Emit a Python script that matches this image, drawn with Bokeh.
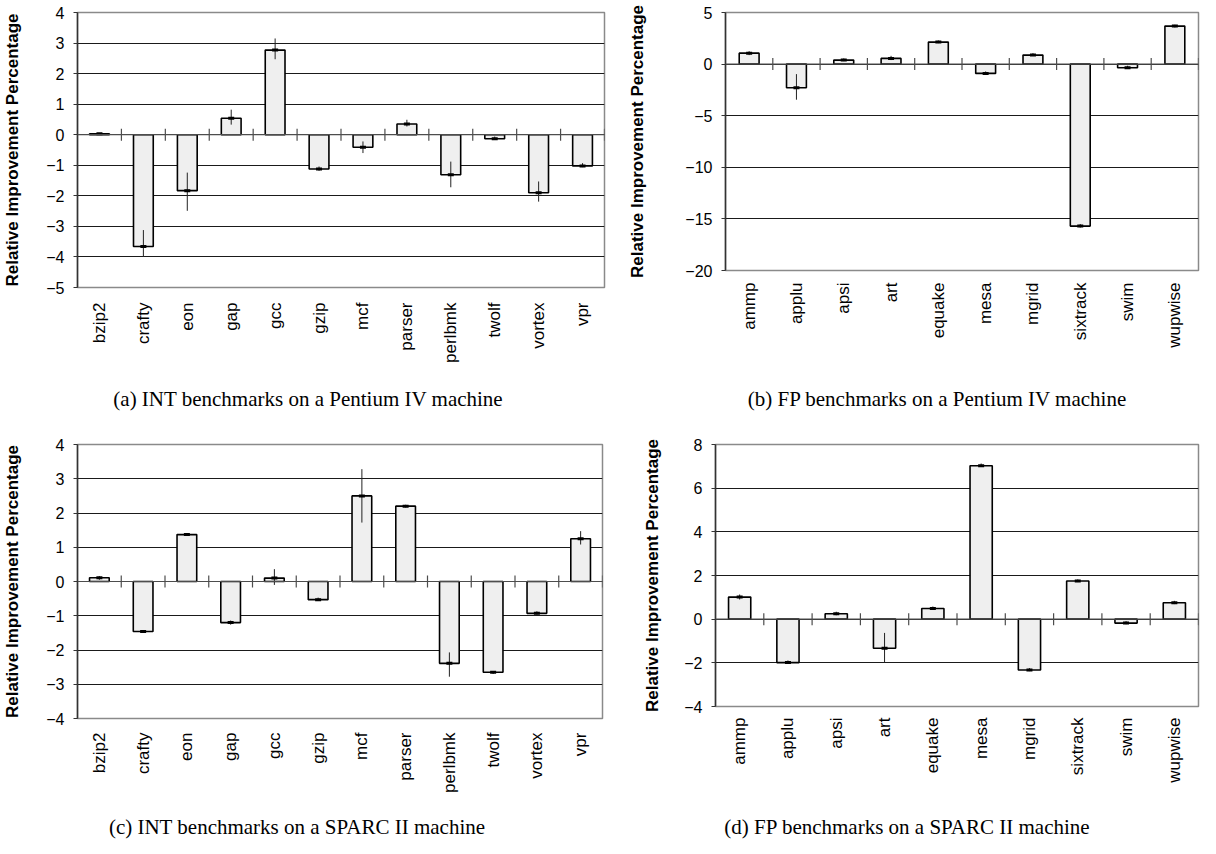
import math
from bokeh.plotting import figure
from bokeh.layouts import column, row
from bokeh.models import FixedTicker, Span, Range1d, ColumnDataSource, Div
from bokeh.embed import file_html
from bokeh.resources import INLINE

# ---------------- data ----------------
int_names = ["bzip2", "crafty", "eon", "gap", "gcc", "gzip", "mcf", "parser",
             "perlbmk", "twolf", "vortex", "vpr"]
fp_names = ["ammp", "applu", "apsi", "art", "equake", "mesa", "mgrid",
            "sixtrack", "swim", "wupwise"]

# (a) INT on Pentium IV
a_vals = [0.03, -3.66, -1.83, 0.54, 2.77, -1.12, -0.41, 0.35, -1.31, -0.13, -1.90, -1.02]
a_lo = [0.00, -4.00, -2.49, 0.33, 2.47, -1.18, -0.60, 0.27, -1.72, -0.16, -2.19, -1.06]
a_hi = [0.05, -3.12, -1.24, 0.82, 3.15, -1.04, -0.22, 0.49, -0.88, -0.06, -1.53, -0.93]
a_ticks = [-5, -4, -3, -2, -1, 0, 1, 2, 3, 4]

# (b) FP on Pentium IV
b_vals = [1.06, -2.29, 0.39, 0.55, 2.13, -0.90, 0.87, -15.70, -0.35, 3.68]
b_lo = [0.87, -3.45, 0.29, 0.39, 2.03, -0.97, 0.80, -15.84, -0.42, 3.55]
b_hi = [1.25, -0.97, 0.55, 0.80, 2.29, -0.71, 1.06, -15.50, -0.16, 3.81]
b_ticks = [-20, -15, -10, -5, 0, 5]

# (c) INT on SPARC II
c_vals = [0.11, -1.46, 1.37, -1.20, 0.10, -0.53, 2.50, 2.20, -2.39, -2.65, -0.93, 1.25]
c_lo = [0.05, -1.50, 1.33, -1.26, -0.10, -0.55, 1.72, 2.16, -2.78, -2.70, -0.96, 1.08]
c_hi = [0.16, -1.42, 1.41, -1.14, 0.36, -0.47, 3.28, 2.24, -2.07, -2.62, -0.87, 1.47]
c_ticks = [-4, -3, -2, -1, 0, 1, 2, 3, 4]

# (d) FP on SPARC II
d_vals = [1.01, -1.99, 0.25, -1.33, 0.49, 7.03, -2.33, 1.75, -0.18, 0.75]
d_lo = [0.90, -2.04, 0.18, -1.98, 0.44, 6.97, -2.38, 1.70, -0.23, 0.69]
d_hi = [1.13, -1.89, 0.34, -0.63, 0.58, 7.13, -2.24, 1.82, -0.09, 0.84]
d_ticks = [-4, -2, 0, 2, 4, 6, 8]

captions = ["(a) INT benchmarks on a Pentium IV machine",
            "(b) FP benchmarks on a Pentium IV machine",
            "(c) INT benchmarks on a SPARC II machine",
            "(d) FP benchmarks on a SPARC II machine"]
y_title = "Relative Improvement Percentage"

SANS = "Liberation Sans"
SERIF = "Liberation Serif"


def panel(names, vals, lo, hi, ticks, width, height,
          bl, bt, br, bb, title_standoff, bar_w, xlab_standoff):
    n = len(names)
    xs = [i + 0.5 for i in range(n)]
    p = figure(width=width, height=height, output_backend="svg",
               toolbar_location=None, tools="",
               x_range=Range1d(0, n), y_range=Range1d(ticks[0], ticks[-1]),
               min_border_left=bl, min_border_top=bt,
               min_border_right=br, min_border_bottom=bb)
    p.background_fill_color = "white"
    p.border_fill_color = "white"
    p.outline_line_color = "#8a8a8a"
    p.outline_line_width = 1.5

    # grid
    p.xgrid.grid_line_color = None
    p.ygrid.grid_line_color = "#1a1a1a"
    p.ygrid.grid_line_width = 1

    # y axis
    p.yaxis.ticker = FixedTicker(ticks=ticks)
    p.yaxis.axis_line_color = "#333333"
    p.yaxis.axis_line_width = 1.5
    p.yaxis.major_tick_line_color = "#333333"
    p.yaxis.major_tick_out = 4
    p.yaxis.major_tick_in = 0
    p.yaxis.minor_tick_line_color = None
    p.yaxis.major_label_standoff = 9
    p.yaxis.major_label_text_font = SANS
    p.yaxis.major_label_text_font_size = "16px"
    p.yaxis.major_label_text_color = "black"
    p.yaxis.axis_label = y_title
    p.yaxis.axis_label_text_font = SANS
    p.yaxis.axis_label_text_font_style = "bold"
    p.yaxis.axis_label_text_font_size = "17px"
    p.yaxis.axis_label_text_color = "black"
    p.yaxis.axis_label_standoff = title_standoff

    # x axis (category labels only)
    p.xaxis.ticker = FixedTicker(ticks=xs)
    p.xaxis.major_label_overrides = {x: nm for x, nm in zip(xs, names)}
    p.xaxis.major_label_orientation = math.pi / 2
    p.xaxis.axis_line_color = None
    p.xaxis.major_tick_line_color = None
    p.xaxis.minor_tick_line_color = None
    p.xaxis.major_tick_out = 0
    p.xaxis.major_label_standoff = xlab_standoff
    p.xaxis.major_label_text_font = SANS
    p.xaxis.major_label_text_font_size = "17px"
    p.xaxis.major_label_text_color = "black"

    src = ColumnDataSource(dict(x=xs, v=vals, lo=lo, hi=hi))
    p.vbar(x="x", top="v", bottom=0, width=bar_w, source=src,
           fill_color="#efefef", line_color="black", line_width=1.6)

    # category axis at zero with boundary tick marks
    p.add_layout(Span(location=0, dimension="width", line_color="#4d4d4d",
                      line_width=1.2))
    bounds = list(range(1, n + 1))
    p.scatter(x=bounds, y=[0] * n, marker="dash", angle=math.pi / 2, size=12,
              line_color="#4d4d4d", line_width=1.2)

    # error bars
    p.segment(x0="x", y0="lo", x1="x", y1="hi", source=src,
              line_color="#222222", line_width=1)
    p.scatter(x="x", y="v", source=src, marker="dash", size=6,
              line_color="black", line_width=3)
    return p


def caption(text, width, height, line_h, indent):
    return Div(text=text, width=width, height=height, margin=(0, 0, 0, 0),
               styles={"font-family": SERIF, "font-size": "21px",
                       "line-height": f"{line_h}px", "text-align": "center",
                       "color": "black", "text-indent": f"{indent}px",
                       "white-space": "nowrap"})


# left column x 8..624, right column x 624..1208
# row 1: figure y 8..395, caption 395..430 ; row 2: figure 430..824, caption 824..846
pa = panel(int_names, a_vals, a_lo, a_hi, a_ticks, 616, 387,
           68, 12, 12, 100, 21, 0.45, 15)
pb = panel(fp_names, b_vals, b_lo, b_hi, b_ticks, 584, 387,
           109, 12, 2, 117, 35, 0.42, 12)
pc = panel(int_names, c_vals, c_lo, c_hi, c_ticks, 616, 394,
           68, 22, 14, 98, 21, 0.45, 14)
pd = panel(fp_names, d_vals, d_lo, d_hi, d_ticks, 584, 394,
           99, 22, 2, 110, 19, 0.46, 11)

ca = caption(captions[0], 616, 35, 24, 0)
cb = caption(captions[1], 584, 35, 24, 58)
cc = caption(captions[2], 616, 22, 22, -22)
cd = caption(captions[3], 584, 22, 22, -2)

layout = column(row(column(pa, ca), column(pb, cb)),
                row(column(pc, cc), column(pd, cd)))
open("out.html", "w").write(file_html(layout, INLINE))
